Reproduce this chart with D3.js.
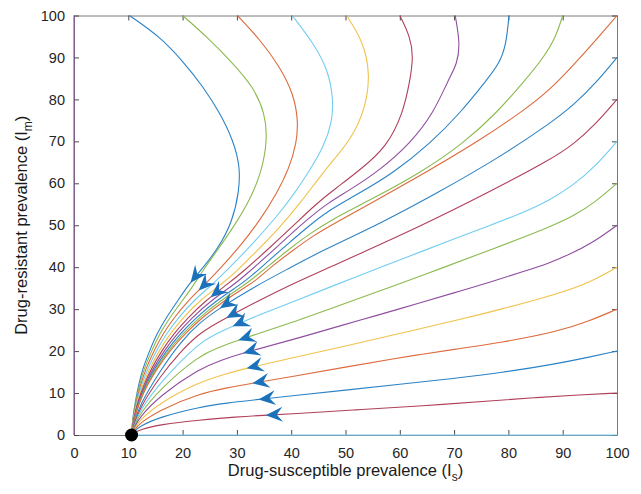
<!DOCTYPE html>
<html>
<head>
<meta charset="utf-8">
<script src="https://cdn.jsdelivr.net/npm/d3@7"></script>
<style>
  body { margin: 0; background: #fff; }
  text { font-family: "Liberation Sans", Arial, Helvetica, sans-serif; }
</style>
</head>
<body>
<div id="chart"></div>
<script>
// ---- data: [Is, Im] points along each trajectory ----
const fixedPoint = [10.6, 0];
const xTicks = [0, 10, 20, 30, 40, 50, 60, 70, 80, 90, 100];
const yTicks = [0, 10, 20, 30, 40, 50, 60, 70, 80, 90, 100];

// trajectories that start on the top edge (Im = 100)
const trajT10 = [[10.2,100],[15.8,95],[20.1,89],[23.8,83],[26.9,76.7],[29.3,70.3],[30.6,64],[30.4,58],[29.2,51],[26.6,44.5],[23.2,39],[21.2,36],[19.1,32],[17.0,28],[15.2,24],[13.9,20],[12.7,16],[11.9,12],[11.3,8],[10.8,4],[10.6,0]];
const trajT20 = [[20,100],[24.4,95],[29.3,88.6],[33,83],[35.2,76.7],[35.6,70.3],[34.6,63],[32.6,56.5],[29.6,50],[26.4,44],[23.6,39],[22.2,36],[19.95,32],[17.66,28],[15.71,24],[14.27,20],[12.97,16],[12.06,12],[11.38,8],[10.83,4],[10.6,0]];
const trajT30 = [[30.1,100],[34.3,94.2],[37.9,87.8],[40.4,81.4],[41.3,75.1],[41.0,69.5],[39.6,63.5],[37.3,57.5],[34.3,51.3],[30.8,45.3],[27,39.8],[24.2,36],[20.97,32],[18.45,28],[16.32,24],[14.71,20],[13.29,16],[12.25,12],[11.48,8],[10.87,4],[10.6,0]];
const trajT40 = [[40.2,100],[44.1,93.4],[46.8,87],[47.8,79.9],[47.5,74.3],[45.9,68.5],[43.6,63.5],[40.6,57.5],[37.3,52],[33.4,46.3],[29.2,40.6],[25.6,36],[21.99,32],[19.24,28],[16.93,24],[15.16,20],[13.62,16],[12.44,12],[11.57,8],[10.9,4],[10.6,0]];
const trajT50 = [[50.2,100],[53.2,94],[54.6,86],[53.6,77.5],[51,70.5],[47.8,65.6],[45.3,61.6],[41.8,55.5],[37.6,49],[33,43],[29.5,38.5],[27.2,36],[23.1,32],[20.1,28],[17.6,24],[15.64,20],[13.97,16],[12.65,12],[11.68,8],[10.94,4],[10.6,0]];
const trajT60 = [[60,100],[61.9,95],[62.5,90.2],[61.9,84.6],[60.6,76.7],[57.6,68.7],[52.7,63.2],[48,58.6],[44.5,55],[40.5,50],[35.5,44],[31.2,39],[28.3,36],[24.2,32],[21.0,28],[18.26,24],[16.12,20],[14.32,16],[12.86,12],[11.78,8],[10.98,4],[10.6,0]];
const trajT70 = [[70.2,100],[71.1,93.4],[70.6,88.5],[68.9,84.6],[66.2,76.7],[61.9,69.5],[56.4,63.2],[50.8,58.4],[46.6,55.2],[43,51.4],[39.6,47.5],[35.5,42.6],[31.6,38.2],[29.6,36],[25.2,32],[21.75,28],[18.87,24],[16.56,20],[14.64,16],[13.05,12],[11.88,8],[11.02,4],[10.6,0]];
const trajT80 = [[80.1,100],[79.6,93],[78.3,88.5],[76,84.6],[71.1,76.7],[65.6,69.5],[58.8,62.4],[51.4,56.8],[47,53.6],[43.2,49.8],[39.6,45.8],[35.8,41.5],[32.4,37.6],[30.8,36],[26.15,32],[22.48,28],[19.43,24],[16.97,20],[14.94,16],[13.23,12],[11.96,8],[11.05,4],[10.6,0]];
const trajT90 = [[90,100],[88.8,95],[86.5,90],[83.1,84.6],[77.8,76.7],[71.7,69.5],[63.7,62.4],[54.5,56],[47.5,51.4],[43.2,47.8],[39.6,44.3],[36.2,40.7],[33,37.4],[31.7,36],[26.92,32],[23.07,28],[19.89,24],[17.3,20],[15.18,16],[13.37,12],[12.04,8],[11.08,4],[10.6,0]];
const trajT100 = [[100,100],[94,91],[87.7,82.2],[82.1,76.7],[74.8,70.3],[65.6,63.2],[55.7,56],[48.5,50.8],[44,47.5],[40.3,44],[36.6,40.4],[33.6,37],[32.5,36],[27.6,32],[23.6,28],[20.3,24],[17.6,20],[15.4,16],[13.5,12],[12.1,8],[11.1,4],[10.6,0]];

// trajectories that start on the right edge (Is = 100)
const trajR90 = [[100,90],[96.5,84.5],[92,78.6],[87.7,74.3],[78.5,66.3],[66.8,57.6],[56.4,50.4],[45.3,43.7],[40,40],[33,35.2],[26.9,30.3],[23.2,26.9],[19.5,22],[15.8,15.2],[12,6.9],[11.2,3.2],[10.6,0]];
const trajR80 = [[100,80],[96,74],[92,69.3],[87.7,65.6],[76,57.6],[63.7,49.7],[51.4,42.5],[47.1,40.0],[40,35.9],[33.5,31.7],[28,27.9],[23.2,24.5],[19.5,19.7],[15.8,13.9],[12,6.2],[11.2,2.9],[10.6,0]];
const trajR70 = [[100,70],[96,64],[92,59.6],[87.7,56],[82,52.6],[76,49.7],[63.7,43.6],[55.7,39.6],[48,35.7],[40,31.6],[34,28.6],[29.3,26.0],[26,24],[23.2,22.2],[15.8,12.5],[12,5.5],[11.2,2.6],[10.6,0]];
const trajR60 = [[100,60],[96,55.5],[92,52.2],[87.7,49.6],[76,43.8],[67.4,39.6],[60,36.1],[50,31.4],[40,26.7],[30.2,22.6],[26.5,20.8],[23.2,19.1],[15.8,11.0],[12,4.8],[11.2,2.3],[10.6,0]];
const trajR50 = [[100,50],[95.5,45.8],[91,42.9],[87.7,41.1],[83.4,39.2],[76,36.2],[70,33.9],[63.7,31.5],[55,28.2],[50,26.4],[40,22.6],[31.1,19.6],[27,17.8],[23.2,15.9],[15.8,9.4],[12,4.1],[11.2,2.0],[10.6,0]];
const trajR40 = [[100,40],[95,36.3],[89,33.6],[78.5,29.9],[70,27.2],[63.7,25.3],[60,24.2],[50,21.2],[40,18.3],[31.9,16.0],[27.5,14.4],[23.2,12.7],[15.8,7.7],[12,3.4],[11.2,1.6],[10.6,0]];
const trajR30 = [[100,30],[95,27.2],[89,24.6],[78.5,22.0],[70,20.4],[63.7,19.2],[60,18.4],[50,16.2],[40,13.9],[32.7,12.3],[28,11.2],[23.2,9.9],[15.8,6.0],[12,2.7],[11.2,1.3],[10.6,0]];
const trajR20 = [[100,20],[95,18.6],[89,17],[78.5,14.8],[70,13.5],[60,12.1],[50,10.7],[40,9.3],[34.1,8.5],[28,7.6],[23.2,6.7],[15.8,4.3],[12,2.0],[11.2,1.0],[10.6,0]];
const trajR10 = [[100,10],[92,9.5],[85,8.9],[78.5,8.3],[63.7,6.9],[52,6.0],[40,5.0],[34.8,4.7],[30,4.3],[23.2,3.6],[15.8,2.5],[12,1.2],[11.2,0.6],[10.6,0]];

// trajectories that run along the axes
const trajBottom = [[100,0],[10.6,0]];
const trajLeft = [[0,100],[0,0]];

// where the direction arrows sit (tips)
const arrowPoints = [[21.6,36.1],[23.2,34.1],[25.3,32.5],[26.9,30.0],[28.1,27.6],[29.4,25.6],[30.3,22.4],[31.2,19.2],[31.8,16.1],[32.8,12.5],[34.0,9.0],[35.2,5.2]];

// ---- styling ----
const palette = {
  blue: "#2b83c6", orange: "#dc6a3c", yellow: "#efc24a", purple: "#8f4f9e",
  green: "#8bba4f", cyan: "#72cdf0", red: "#b0405a"
};
const series = [
  [trajT10, "blue"], [trajT20, "green"], [trajT30, "orange"], [trajT40, "cyan"],
  [trajT50, "yellow"], [trajT60, "red"], [trajT70, "purple"], [trajT80, "blue"],
  [trajT90, "green"], [trajT100, "orange"],
  [trajR90, "blue"], [trajR80, "red"], [trajR70, "cyan"], [trajR60, "green"],
  [trajR50, "purple"], [trajR40, "yellow"], [trajR30, "orange"], [trajR20, "blue"],
  [trajR10, "red"],
  [trajBottom, "cyan"], [trajLeft, "purple"]
];

var margin = {top: 15.5, right: 24, bottom: 59, left: 74},
    width = 641 - margin.left - margin.right,
    height = 494 - margin.top - margin.bottom;

var svg = d3.select("#chart")
    .append("svg")
    .attr("width", 641)
    .attr("height", 494)
    .append("g")
    .attr("transform", "translate(" + margin.left + "," + margin.top + ")");

var x = d3.scaleLinear().domain([0, 100]).range([0, width]);
var y = d3.scaleLinear().domain([0, 100]).range([height, 0]);

// axes with inward ticks, box on
function styleAxis(g) {
    g.select(".domain").attr("stroke", "#7a7a7a").attr("stroke-width", 1);
    g.selectAll(".tick line").attr("stroke", "#4a4a4a");
    g.selectAll(".tick text")
        .attr("fill", "#262626")
        .style("font-size", "14.5px");
}
svg.append("g")
    .attr("transform", "translate(0," + height + ")")
    .call(d3.axisBottom(x).tickValues(xTicks).tickSizeInner(-5).tickSizeOuter(0).tickPadding(13))
    .call(styleAxis);
svg.append("g")
    .call(d3.axisTop(x).tickValues(xTicks).tickSizeInner(-5).tickSizeOuter(0).tickFormat(""))
    .call(styleAxis);
svg.append("g")
    .call(d3.axisLeft(y).tickValues(yTicks).tickSizeInner(-5).tickSizeOuter(0).tickPadding(9))
    .call(styleAxis);
svg.append("g")
    .attr("transform", "translate(" + width + ",0)")
    .call(d3.axisRight(y).tickValues(yTicks).tickSizeInner(-5).tickSizeOuter(0).tickFormat(""))
    .call(styleAxis);

// trajectories
var line = d3.line()
    .x(function(d) { return x(d[0]); })
    .y(function(d) { return y(d[1]); })
    .curve(d3.curveBasis);

var paths = svg.selectAll("path.traj")
    .data(series)
    .enter()
    .append("path")
    .attr("class", "traj")
    .attr("d", function(d) { return line(d[0]); })
    .attr("fill", "none")
    .attr("stroke", function(d) { return palette[d[1]]; })
    .attr("stroke-width", 1.1);

// sample the drawn curves so arrows sit on them and follow their direction
var samples = [];
paths.each(function() {
    var L = this.getTotalLength();
    for (var l = 0; l <= L; l += 1) {
        var p = this.getPointAtLength(l);
        samples.push({node: this, l: l, L: L, x: p.x, y: p.y});
    }
});

var arrows = arrowPoints.map(function(a) {
    var px = x(a[0]), py = y(a[1]);
    var best = d3.least(samples, function(s) { return (s.x - px) * (s.x - px) + (s.y - py) * (s.y - py); });
    var p1 = best.node.getPointAtLength(Math.max(0, best.l - 3));
    var p2 = best.node.getPointAtLength(Math.min(best.L, best.l + 3));
    var angle = Math.atan2(p2.y - p1.y, p2.x - p1.x) * 180 / Math.PI;
    return {x: best.x, y: best.y, angle: angle};
});

svg.selectAll("path.arrow")
    .data(arrows)
    .enter()
    .append("path")
    .attr("class", "arrow")
    .attr("d", "M0,0L-17,-7.5L-11,0L-17,7.5Z")
    .attr("transform", function(d) { return "translate(" + d.x + "," + d.y + ")rotate(" + d.angle + ")"; })
    .attr("fill", "#1b72bb");

// equilibrium
svg.append("circle")
    .attr("cx", x(fixedPoint[0]))
    .attr("cy", y(fixedPoint[1]))
    .attr("r", 6.5)
    .attr("fill", "#000");

// axis titles
var xt = svg.append("text")
    .attr("x", width / 2)
    .attr("y", height + 41)
    .attr("text-anchor", "middle")
    .attr("fill", "#1a1a1a")
    .style("font-size", "16.5px");
xt.append("tspan").text("Drug-susceptible prevalence (I");
xt.append("tspan").attr("dy", 5).style("font-size", "12px").text("s");
xt.append("tspan").attr("dy", -5).text(")");

var yt = svg.append("text")
    .attr("transform", "translate(-47," + (height / 2) + ")rotate(-90)")
    .attr("text-anchor", "middle")
    .attr("fill", "#1a1a1a")
    .style("font-size", "16.5px");
yt.append("tspan").text("Drug-resistant prevalence (I");
yt.append("tspan").attr("dy", 5).style("font-size", "12px").text("m");
yt.append("tspan").attr("dy", -5).text(")");
</script>
</body>
</html>
